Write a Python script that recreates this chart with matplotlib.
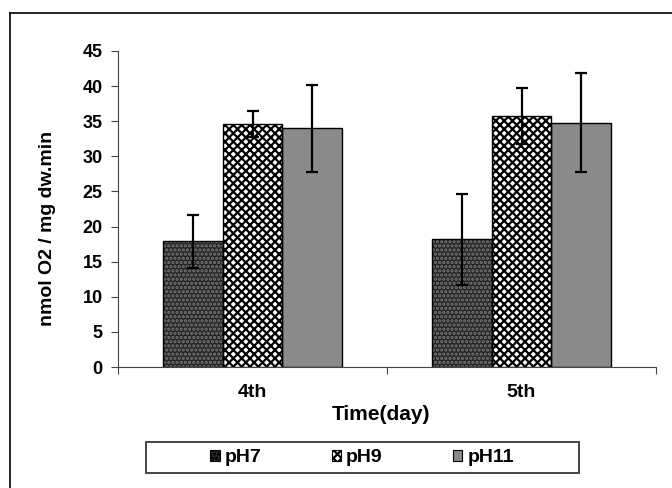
import matplotlib.pyplot as plt
import matplotlib.patches as mpatches
from matplotlib.lines import Line2D
import numpy as np

plt.rcParams['font.family'] = ['Liberation Sans', 'DejaVu Sans']
plt.rcParams['font.weight'] = 'bold'
plt.rcParams['hatch.linewidth'] = 1.6

days = ["4th", "5th"]
series = ["pH7", "pH9", "pH11"]
means = {
    "pH7": [17.9, 18.2],
    "pH9": [34.6, 35.7],
    "pH11": [34.0, 34.8],
}
errs = {
    "pH7": [3.8, 6.5],
    "pH9": [1.9, 4.0],
    "pH11": [6.2, 7.1],
}

styles = {
    "pH7": dict(fc="#262626", hatch="....", hc="#777777"),
    "pH9": dict(fc="white", hatch="xxxx", hc="black"),
    "pH11": dict(fc="#8a8a8a", hatch=None, hc="#8a8a8a"),
}

fig = plt.figure(figsize=(6.72, 4.88), dpi=100)
ax = fig.add_axes([118 / 672, 1 - 367 / 488, (656 - 118) / 672, (367 - 51) / 488])

x = np.arange(len(days))
w = 0.223
for i, s in enumerate(series):
    pos = x + (i - 1) * w
    st = styles[s]
    ax.bar(pos, means[s], w, color=st["fc"], hatch=st["hatch"],
           edgecolor=st["hc"], linewidth=0, zorder=2)
    ax.bar(pos, means[s], w, fill=False, edgecolor="black", linewidth=1, zorder=3)
    ax.errorbar(pos, means[s], yerr=errs[s], fmt="none", ecolor="black",
                elinewidth=1.6, capsize=4, capthick=1.6, zorder=4)

ax.set_xlim(-0.5, 1.5)
ax.set_ylim(0, 45)
ax.set_yticks(range(0, 46, 5))
ax.set_xticks([-0.5, 0.5, 1.5])
ax.set_xticklabels([])
ax.set_xticks(x, minor=True)
ax.set_xticklabels(days, minor=True, fontweight="bold")
ax.tick_params(axis="x", which="minor", length=0, pad=12, labelsize=14)
ax.tick_params(axis="x", which="major", length=5, direction="out", color="#444444")
ax.tick_params(axis="y", length=5, direction="out", labelsize=13, pad=6, color="#444444")
for lab in ax.get_yticklabels():
    lab.set_fontweight("bold")
for sp in ["top", "right"]:
    ax.spines[sp].set_visible(False)
for sp in ["left", "bottom"]:
    ax.spines[sp].set_color("#444444")

fig.text(48 / 672, 1 - 228 / 488, "nmol O2 / mg dw.min", rotation=90,
         ha="center", va="center", fontsize=14, fontweight="bold")
fig.text(381 / 672, 1 - 415 / 488, "Time(day)", ha="center", va="center",
         fontsize=15, fontweight="bold")

# outer frame
fig.add_artist(Line2D([10 / 672, 10 / 672], [0, 1 - 13 / 488], color="black", lw=1.2))
fig.add_artist(Line2D([10 / 672, 1], [1 - 13 / 488, 1 - 13 / 488], color="black", lw=1.2))

# legend box
fig.add_artist(mpatches.Rectangle((146 / 672, 1 - 473 / 488), (579 - 146) / 672, 31 / 488,
                                  transform=fig.transFigure, fill=False,
                                  edgecolor="#444444", linewidth=1.4))

handles = [mpatches.Patch(facecolor=styles[s]["fc"], hatch=styles[s]["hatch"],
                          edgecolor="black", linewidth=0.8) for s in series]
leg = fig.legend(handles, series, loc="center",
                 bbox_to_anchor=(362 / 672, 1 - 458 / 488), ncol=3,
                 handlelength=0.5, handleheight=0.5, handletextpad=0.25,
                 columnspacing=3.6, fontsize=14, frameon=False,
                 borderpad=0.2)
for t in leg.get_texts():
    t.set_fontweight("bold")

fig.savefig("out.png", dpi=100)
